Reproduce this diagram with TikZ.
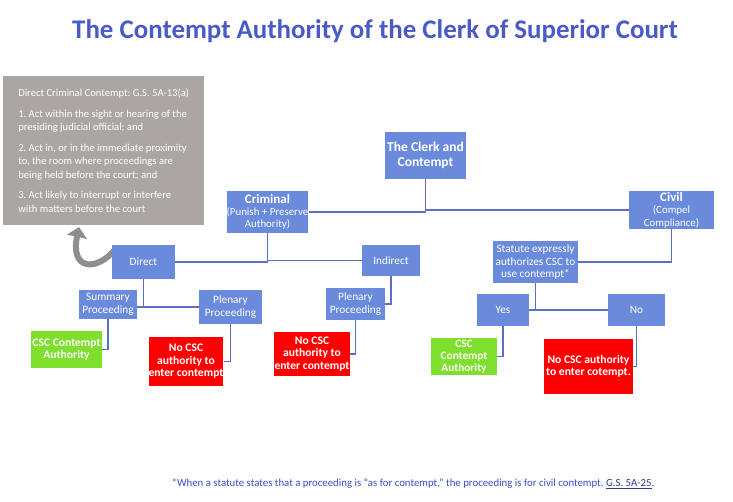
\documentclass[tikz,border=0pt]{standalone}
\usepackage{fontspec}
\setmainfont{Carlito}
\usetikzlibrary{arrows.meta,backgrounds}
\definecolor{boxblue}{HTML}{6A8BDB}
\definecolor{linkblue}{HTML}{5872BF}
\definecolor{titleblue}{HTML}{4A5BC6}
\definecolor{boxgray}{HTML}{ABA6A4}
\definecolor{boxgreen}{HTML}{7EE02C}
\definecolor{boxred}{HTML}{FF0000}
\definecolor{arrowgray}{HTML}{8E8E8E}
\definecolor{notecol}{HTML}{3B4CC8}
\definecolor{notelink}{HTML}{2B3A8F}
\newcommand{\smallfs}{\mdseries\fontsize{10.9}{11.5}\selectfont}
\newcommand{\headfs}{\bfseries\fontsize{13}{14}\selectfont}
\frenchspacing
\begin{document}
\begin{tikzpicture}[x=1pt,y=-1pt,
  base/.style={rectangle, inner sep=0pt, align=center, text=white},
  sz/.style 2 args={minimum width=#1pt, minimum height=#2pt},
  bluebox/.style={base, fill=boxblue, font=\fontsize{11.3}{12.5}\selectfont},
  greenbox/.style={base, fill=boxgreen, font=\bfseries\fontsize{11.6}{12.5}\selectfont},
  redbox/.style={base, fill=boxred, font=\bfseries\fontsize{11.6}{12.5}\selectfont},
  graybox/.style={rectangle, fill=boxgray, text=white, align=left, inner sep=0pt,
    font=\fontsize{10.6}{13.5}\selectfont},
  link/.style={draw=linkblue, line width=1.2pt},
  curvearrow/.style={draw=arrowgray, line width=6pt, -{Triangle[width=20pt,length=10pt]}}]
\useasboundingbox (0,0) rectangle (733,501);

% title
\node[font=\bfseries\fontsize{26.9}{30}\selectfont, text=titleblue] (title) at (375,31)
  {The Contempt Authority of the Clerk of Superior Court};

% gray explanation box
\node[graybox, sz={201}{149}, anchor=north west] (gray) at (3,76)
  {Direct Criminal Contempt: G.S. 5A-13(a)\\[7pt]
   1. Act within the sight or hearing of the\\presiding judicial official; and\\[7pt]
   2. Act in, or in the immediate proximity\\to, the room where proceedings are\\being held before the court; and\\[7pt]
   3. Act likely to interrupt or interfere\\with matters before the court};

% blue boxes
\node[bluebox, sz={81}{47}, font=\bfseries\fontsize{13.5}{15}\selectfont] (clerk) at (425.5,155.5)
  {The Clerk and\\Contempt};
\node[bluebox, sz={81}{42}] (criminal) at (267.5,212)
  {\headfs Criminal\\[-1pt]\smallfs (Punish + Preserve\\\smallfs Authority)};
\node[bluebox, sz={85}{38}] (civil) at (671.5,210)
  {\headfs Civil\\\smallfs (Compel\\\smallfs Compliance)};
\node[bluebox, sz={63}{34}] (direct) at (143.5,262) {Direct};
\node[bluebox, sz={58}{31}] (indirect) at (391,260.5) {Indirect};
\node[bluebox, sz={58}{29}] (summary) at (108,304.5) {Summary\\Proceeding};
\node[bluebox, sz={63}{34}] (plenary1) at (230.5,307) {Plenary\\Proceeding};
\node[bluebox, sz={59}{32}] (plenary2) at (355.5,304) {Plenary\\Proceeding};
\node[bluebox, sz={85}{42}] (statute) at (535.5,262)
  {Statute expressly\\authorizes CSC to\\use contempt*};
\node[bluebox, sz={52}{32}] (yes) at (503,310) {Yes};
\node[bluebox, sz={57}{32}] (no) at (636.5,310) {No};

% outcome boxes
\node[greenbox, sz={71}{37}] (g1) at (66.5,349.5) {CSC Contempt\\Authority};
\node[greenbox, sz={66}{37}, font=\bfseries\fontsize{11.3}{12}\selectfont] (g2) at (464,356.5)
  {CSC\\Contempt\\Authority};
\node[redbox, sz={74}{49}] (r1) at (186,361.5) {No CSC\\authority to\\enter contempt};
\node[redbox, sz={76}{44}] (r2) at (312,354) {No CSC\\authority to\\enter contempt};
\node[redbox, sz={89}{55}] (r3) at (588.5,366.5) {No CSC authority\\to enter cotempt.};

% curved arrow from Direct up to the gray box (behind the Direct box)
\coordinate (arrowtip) at (79,227);
\begin{scope}[on background layer]
  \fill[white] (0,0) rectangle (733,501);
  \draw[curvearrow] ([shift={(3,5)}]direct.north west)
    .. controls (96,272) and (70,270) .. (arrowtip);
\end{scope}

% connectors
\draw[link] (criminal.east) -| (clerk.south);
\draw[link] (clerk.south) |- (civil.west);
\draw[link] (criminal.south) |- (direct.east);
\draw[link] (criminal.south) |- (indirect.west);
\draw[link] (direct.south) |- (plenary1.west);
\draw[link] (direct.south |- plenary1.west) -- (summary.east |- plenary1.west);
\draw[link] (summary.south) |- (g1.east);
\draw[link] (plenary1.south) |- (r1.east);
\draw[link] (indirect.south) |- (plenary2.east);
\draw[link] (plenary2.south) |- (r2.east);
\draw[link] (civil.south) |- (statute.east);
\draw[link] (statute.south) |- (no.west);
\draw[link] (statute.south |- no.west) -- (yes.east);
\draw[link] (yes.south) |- (g2.east);
\draw[link] (no.south) |- (r3.east);

% footnote
\node[font=\fontsize{10.8}{12}\selectfont, text=notecol] (note) at (413,484)
  {*When a statute states that a proceeding is “as for contempt,” the proceeding is for civil contempt.
   \textcolor{notelink}{\underline{G.S. 5A-25}}.};
\end{tikzpicture}
\end{document}
